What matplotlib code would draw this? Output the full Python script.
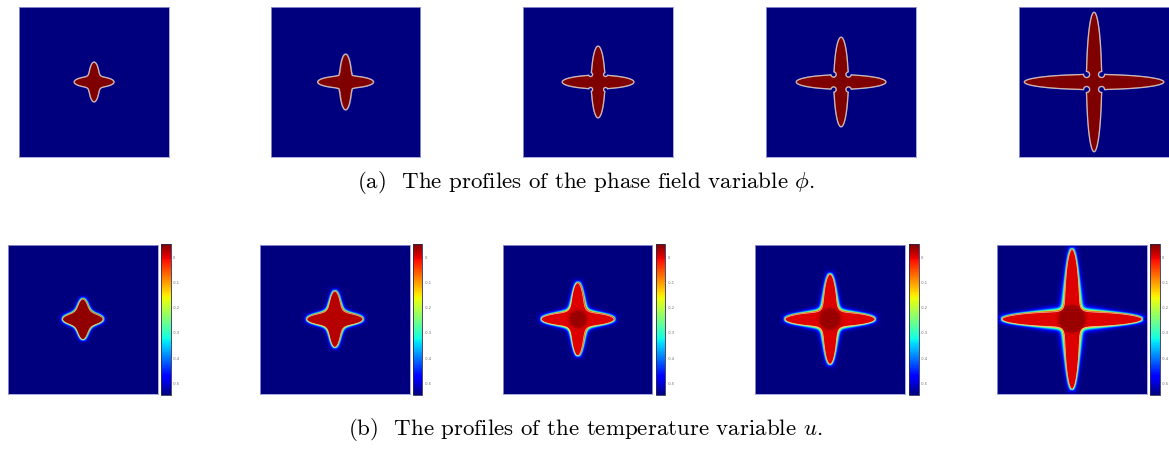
import numpy as np
import matplotlib
matplotlib.use('Agg')
import matplotlib.pyplot as plt

# ---------------- data ----------------
# sizes are in pixels of a 150-px wide panel (domain -75..75)
arm_half_len_phi = [20, 28, 36, 45, 70]
arm_half_wid_phi = [5.6, 6.2, 6.8, 7.2, 7.6]
hole_radius_phi = [0.0, 1.4, 2.0, 2.6, 3.0]
hole_offset_phi = [0.0, 7.8, 7.5, 7.5, 7.5]

arm_half_len_u = [20, 28, 36.5, 45, 70]
arm_half_wid_u = [6.0, 6.5, 7.0, 7.2, 7.6]
core_radius_u = [0, 0, 9, 11, 14]
interior_u = [0.04, 0.02, 0.0, 0.0, 0.0]
core_u = 0.035

u_min, u_max = -0.55, 0.05
cbar_ticks = [0, -0.1, -0.2, -0.3, -0.4, -0.5]
cbar_tick_labels = ['0', '-0.1', '-0.2', '-0.3', '-0.4', '-0.5']

captions = [r'(a)  The profiles of the phase field variable $\phi$.',
            r'(b)  The profiles of the temperature variable $u$.']

# ---------------- layout (pixels) ----------------
FW, FH = 1169, 456
top_left = [19.3, 270.7, 523.3, 766.3, 1019.3]
top_y0, top_y1 = 8.3, 157.7
bot_left = [8.0, 260.0, 502.7, 755.3, 997.3]
cb_left = [161.3, 412.7, 655.7, 909.0, 1150.3]
bot_y0, bot_y1 = 245.0, 395.7
pw = 149.6
cbw = 9.6

plt.rcParams['mathtext.fontset'] = 'cm'
plt.rcParams['axes.unicode_minus'] = False

fig = plt.figure(figsize=(FW / 100, FH / 100), dpi=100)


def rect(x0, y0, w, y1):
    return [x0 / FW, 1 - y1 / FH, w / FW, (y1 - y0) / FH]


N = 500
g = np.linspace(-75, 75, N)
X, Y = np.meshgrid(g, g)
RHO = np.hypot(X, Y)


def shape(L, W, k):
    fh = W * (1 - np.sqrt((X / L) ** 2 + (Y / W) ** 2))
    fv = W * (1 - np.sqrt((Y / L) ** 2 + (X / W) ** 2))
    return k * np.logaddexp(fh / k, fv / k)


def sdist(f):
    gy, gx = np.gradient(f, g, g)
    return f / np.maximum(np.hypot(gx, gy), 0.05)


def style_img(ax):
    ax.set_xticks([])
    ax.set_yticks([])
    for s in ax.spines.values():
        s.set_color('#9c9cd6')
        s.set_linewidth(0.6)


# ---------------- top row: phase field ----------------
for i in range(5):
    ax = fig.add_axes(rect(top_left[i], top_y0, pw, top_y1))
    f = shape(arm_half_len_phi[i], arm_half_wid_phi[i], 1.6)
    d = sdist(f)
    r = hole_radius_phi[i]
    if r > 0:
        o = hole_offset_phi[i]
        for sx in (-1, 1):
            for sy in (-1, 1):
                d = np.minimum(d, np.sqrt((X - sx * o) ** 2 + (Y - sy * o) ** 2) - r)
    phi = np.tanh(d / 0.35)
    ax.imshow(phi, cmap='jet', vmin=-1, vmax=1, extent=[-75, 75, -75, 75],
              origin='lower', interpolation='bilinear')
    ax.contour(X, Y, d, levels=[0], colors=['#cdb6b6'], linewidths=0.9)
    ax.set_xlim(-75, 75)
    ax.set_ylim(-75, 75)
    style_img(ax)

# ---------------- bottom row: temperature ----------------
for i in range(5):
    ax = fig.add_axes(rect(bot_left[i], bot_y0, pw, bot_y1))
    L = arm_half_len_u[i]
    f = shape(L, arm_half_wid_u[i], 3.5)
    d = sdist(f)
    ui = interior_u[i]
    lam = 0.9 + 2.2 * np.exp(-(RHO / (0.45 * L)) ** 2)
    u = np.where(d > 0, ui, u_min + (ui - u_min) * np.exp(np.minimum(d, 0) / lam))
    cr = core_radius_u[i]
    if cr > 0:
        w = 0.5 * (1 - np.tanh((RHO - cr) / 1.5)) * (d > 0)
        u = u + (core_u - ui) * w
    im = ax.imshow(u, cmap='jet', vmin=u_min, vmax=u_max, extent=[-75, 75, -75, 75],
                   origin='lower', interpolation='bilinear')
    ax.contour(X, Y, d, levels=[0], colors=['#f2ead2'], linewidths=0.5, alpha=0.8)
    ax.set_xlim(-75, 75)
    ax.set_ylim(-75, 75)
    style_img(ax)

    cax = fig.add_axes(rect(cb_left[i], bot_y0, cbw, bot_y1))
    cb = fig.colorbar(im, cax=cax, ticks=cbar_ticks)
    cb.ax.set_yticklabels(cbar_tick_labels)
    cb.ax.tick_params(labelsize=2.6, colors='#6a6a6a', length=0.8, width=0.3, pad=0.8)
    cb.outline.set_linewidth(0.6)
    cb.outline.set_edgecolor('#2a2a55')

# ---------------- captions ----------------
fig.text(585.5 / FW, 1 - 183 / FH, captions[0], ha='center', va='center',
         fontsize=16.5, family='cmr10')
fig.text(585 / FW, 1 - 430 / FH, captions[1], ha='center', va='center',
         fontsize=16.5, family='cmr10')

fig.savefig('out.png', dpi=100)
